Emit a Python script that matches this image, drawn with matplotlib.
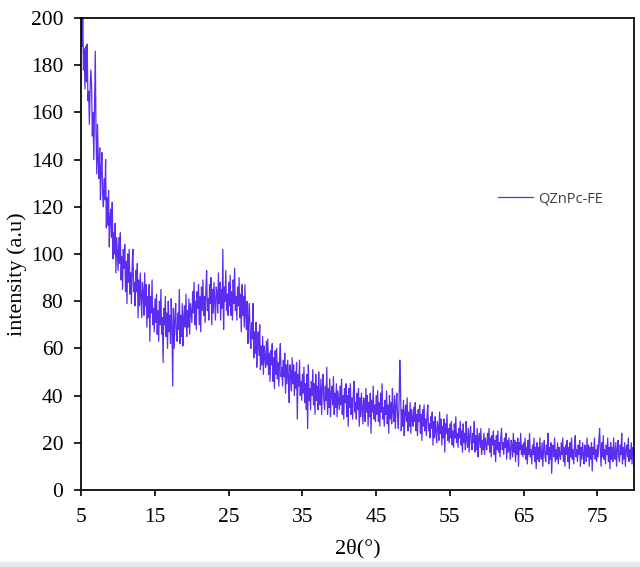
import numpy as np
import matplotlib
matplotlib.use('Agg')
from matplotlib import pyplot as plt
from matplotlib.patches import Rectangle

plt.rc('font', family='Liberation Serif', size=15.5)

# XRD scan, 2theta from 5 to 80 deg in 0.1 deg steps
seg_05 = [202, 188, 201, 178, 187, 170, 188, 173, 189, 165,
          169, 155, 170, 178, 172, 150, 160, 140, 162, 186,
          151, 134, 155, 140, 132, 145, 123, 136, 143, 125,
          120, 132, 123, 140, 111, 124, 112, 127, 103, 115,
          119, 107, 122, 98, 109, 100, 113, 92, 107, 100]
seg_10 = [93, 107, 96, 109, 89, 99, 85, 102, 94, 104,
          84, 97, 79, 100, 88, 102, 83, 92, 79, 95,
          102, 84, 88, 78, 93, 84, 96, 73, 89, 78,
          92, 82, 73, 88, 84, 74, 92, 78, 87, 69,
          82, 73, 87, 63, 82, 75, 89, 70, 77, 67]
seg_15 = [81, 71, 83, 66, 76, 63, 80, 70, 85, 66,
          73, 54, 77, 70, 82, 65, 75, 60, 80, 67,
          74, 62, 81, 69, 44, 77, 60, 72, 79, 66,
          63, 75, 68, 85, 62, 74, 65, 79, 61, 73,
          78, 69, 83, 65, 76, 69, 81, 66, 79, 75]
seg_20 = [71, 84, 75, 88, 70, 80, 68, 84, 77, 87,
          70, 82, 67, 86, 76, 89, 74, 82, 71, 85,
          93, 76, 81, 72, 87, 79, 90, 70, 85, 75,
          88, 80, 72, 86, 84, 75, 92, 79, 88, 72,
          85, 77, 102, 68, 86, 80, 93, 76, 83, 74]
seg_25 = [88, 78, 91, 74, 84, 72, 89, 79, 94, 76,
          82, 72, 86, 78, 90, 73, 83, 67, 87, 74,
          82, 69, 87, 74, 68, 80, 62, 73, 79, 65,
          60, 71, 64, 79, 56, 67, 58, 71, 52, 63,
          67, 57, 70, 51, 61, 53, 65, 49, 61, 56]
seg_30 = [52, 63, 53, 64, 49, 58, 46, 59, 53, 62,
          46, 56, 43, 59, 49, 60, 47, 54, 44, 56,
          62, 48, 52, 44, 55, 48, 58, 41, 53, 45,
          55, 48, 37, 53, 50, 42, 56, 45, 53, 40,
          50, 43, 54, 30, 49, 44, 55, 40, 46, 38]
seg_35 = [49, 41, 52, 37, 45, 34, 49, 26, 53, 38,
          43, 34, 46, 40, 51, 36, 45, 32, 49, 38,
          44, 34, 50, 40, 36, 47, 32, 43, 49, 38,
          34, 44, 38, 52, 32, 43, 35, 47, 31, 41,
          44, 36, 48, 32, 41, 35, 45, 31, 42, 38]
seg_40 = [34, 44, 36, 47, 32, 40, 30, 43, 37, 45,
          31, 40, 27, 43, 35, 45, 32, 39, 30, 41,
          46, 33, 37, 30, 41, 34, 43, 27, 39, 31,
          41, 34, 28, 39, 37, 29, 43, 33, 40, 27,
          37, 31, 41, 24, 38, 33, 44, 30, 36, 29]
seg_45 = [40, 32, 42, 29, 37, 27, 41, 33, 45, 30,
          35, 27, 38, 32, 42, 28, 36, 24, 40, 30,
          37, 28, 43, 33, 29, 40, 26, 36, 41, 31,
          26, 36, 55, 43, 25, 34, 27, 38, 23, 33,
          36, 29, 39, 25, 33, 27, 37, 24, 34, 30]
seg_50 = [27, 35, 29, 37, 25, 32, 23, 34, 29, 36,
          24, 32, 21, 34, 27, 36, 25, 30, 23, 32,
          36, 25, 28, 22, 31, 26, 33, 19, 29, 22,
          31, 25, 20, 29, 27, 21, 33, 24, 30, 19,
          27, 22, 30, 16, 28, 24, 32, 21, 26, 20]
seg_55 = [28, 22, 29, 19, 25, 18, 28, 22, 31, 20,
          24, 18, 26, 22, 29, 19, 25, 16, 28, 20,
          24, 17, 29, 21, 18, 26, 16, 23, 27, 20,
          17, 24, 20, 29, 16, 23, 17, 26, 14, 22,
          24, 18, 26, 15, 21, 17, 24, 15, 22, 19]
seg_60 = [17, 24, 19, 26, 16, 22, 14, 23, 19, 25,
          15, 21, 12, 23, 17, 25, 16, 20, 14, 22,
          26, 17, 20, 15, 22, 18, 24, 13, 21, 16,
          22, 17, 13, 21, 19, 14, 24, 16, 21, 12,
          20, 15, 22, 10, 20, 17, 24, 15, 19, 14]
seg_65 = [20, 15, 22, 13, 18, 11, 21, 15, 24, 14,
          17, 11, 19, 15, 22, 12, 18, 9, 20, 13,
          18, 12, 22, 15, 13, 20, 10, 17, 21, 14,
          12, 19, 15, 24, 11, 18, 13, 20, 7, 17,
          19, 14, 22, 12, 17, 13, 20, 11, 18, 15]
seg_70 = [13, 20, 15, 22, 12, 18, 10, 19, 15, 21,
          12, 18, 9, 20, 14, 22, 13, 17, 11, 19,
          23, 14, 17, 12, 19, 15, 21, 10, 18, 13,
          20, 15, 11, 19, 17, 12, 22, 14, 19, 10,
          18, 13, 20, 8, 18, 15, 22, 13, 17, 12]
seg_75 = [19, 14, 21, 26, 17, 10, 20, 14, 23, 13,
          17, 11, 19, 15, 22, 12, 18, 9, 20, 13,
          18, 12, 22, 15, 13, 20, 10, 17, 21, 14,
          12, 19, 15, 24, 11, 18, 13, 20, 10, 17,
          19, 14, 22, 12, 17, 13, 20, 11, 18, 15, 17]

intensity = np.array(seg_05 + seg_10 + seg_15 + seg_20 + seg_25 + seg_30 + seg_35 + seg_40
                     + seg_45 + seg_50 + seg_55 + seg_60 + seg_65 + seg_70 + seg_75)
two_theta = np.linspace(5, 80, len(intensity))

line_color = '#5a2df0'

fig = plt.figure(figsize=(6.4, 5.67), dpi=100)
ax = fig.add_axes([0.127, 0.136, 0.864, 0.832])

ax.plot(two_theta, intensity, color=line_color, lw=0.9, label='QZnPc-FE')

ax.set_xlim(5, 80)
ax.set_ylim(0, 200)
ax.set_xticks(np.arange(5, 80, 10))
ax.set_yticks(np.arange(0, 201, 20))
ax.tick_params(direction='out', width=1.2, colors='k', labelsize=15.5)
ax.tick_params(axis='x', length=4.5, pad=8.5)
ax.tick_params(axis='y', length=5, pad=8)
for s in ax.spines.values():
    s.set_linewidth(1.25)

ax.set_xlabel('2θ(°)', fontsize=16, labelpad=9)
ax.set_ylabel('intensity (a.u)', fontsize=16)
ax.yaxis.set_label_coords(-0.098, 0.458)

leg = ax.legend(loc='center left', bbox_to_anchor=(0.754, 0.617), frameon=False,
                borderpad=0, borderaxespad=0, handlelength=2.4, handletextpad=0.35,
                prop={'family': 'Open Sans', 'size': 10.5})
for t in leg.get_texts():
    t.set_color('#404040')

# light strip at the bottom edge of the picture
fig.patches.append(Rectangle((0, 0), 1, 0.008, transform=fig.transFigure,
                             color='#e6eaee', zorder=0))

plt.savefig('out.png', dpi=100)
